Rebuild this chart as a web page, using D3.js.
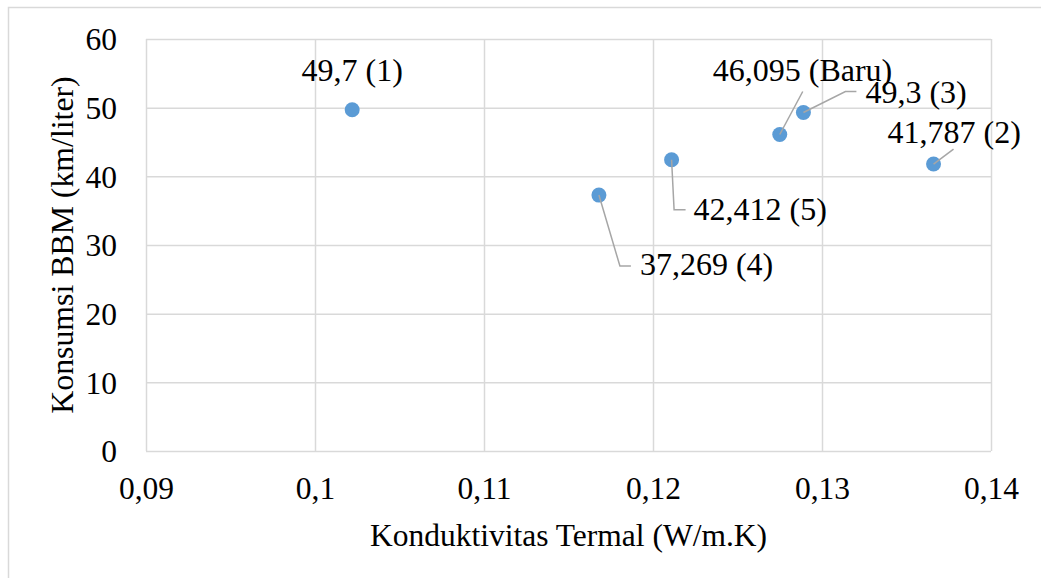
<!DOCTYPE html>
<html>
<head>
<meta charset="utf-8">
<script src="https://cdn.jsdelivr.net/npm/d3@7/dist/d3.min.js"></script>
<style>
  html, body { margin: 0; padding: 0; background: #fff; }
  svg { display: block; }
  text { font-family: "Liberation Serif", "Times New Roman", serif; fill: #000; }
</style>
</head>
<body>
<svg id="chart" width="1041" height="578"></svg>
<script>
// ---- Data ----
const conductivity = [0.1022, 0.1366, 0.1289, 0.1168, 0.1211, 0.1275];
const consumption  = [49.7, 41.787, 49.3, 37.269, 42.412, 46.095];
const pointLabels  = ["49,7 (1)", "41,787 (2)", "49,3 (3)", "37,269 (4)", "42,412 (5)", "46,095 (Baru)"];
const xTickValues  = [0.09, 0.10, 0.11, 0.12, 0.13, 0.14];
const yTickValues  = [0, 10, 20, 30, 40, 50, 60];
const xTitle = "Konduktivitas Termal (W/m.K)";
const yTitle = "Konsumsi BBM (km/liter)";

// ---- Layout (label placement offsets relative to each point, in px) ----
const labelLayout = [
  { dx: 0,     dy: -29, anchor: "middle", leader: [] },
  { dx: -46,   dy: -21, anchor: "start",  leader: [[20, -15]] },
  { dx: 62,    dy: -9,  anchor: "start",  leader: [[53, -21], [42, -21]] },
  { dx: 41,    dy: 80,  anchor: "start",  leader: [[32, 71], [21, 71]] },
  { dx: 22,    dy: 60,  anchor: "start",  leader: [[14, 50], [2.5, 50]] },
  { dx: -67,   dy: -53, anchor: "start",  leader: [[23, -43]] }
];

const FONT = "'Liberation Serif','Times New Roman',serif";
const svg = d3.select("#chart");
const plot = { left: 146, right: 991, top: 39, bottom: 451 };
const W = plot.right - plot.left, H = plot.bottom - plot.top;

const locale = d3.formatLocale({ decimal: ",", thousands: ".", grouping: [3], currency: ["", ""] });
const fmt = locale.format("~g");

const x = d3.scaleLinear().domain([0.09, 0.14]).range([plot.left, plot.right]);
const y = d3.scaleLinear().domain([0, 60]).range([plot.bottom, plot.top]);

// chart border
svg.append("rect")
  .attr("x", 8.5).attr("y", 7.5).attr("width", 1100).attr("height", 700)
  .attr("fill", "#fff").attr("stroke", "#d9d9d9").attr("stroke-width", 1.5);

// gridlines
const gx = svg.append("g").attr("transform", `translate(0,${plot.bottom})`)
  .call(d3.axisBottom(x).tickValues(xTickValues).tickSize(-H).tickFormat(""));
const gy = svg.append("g").attr("transform", `translate(${plot.left},0)`)
  .call(d3.axisLeft(y).tickValues(yTickValues).tickSize(-W).tickFormat(""));
[gx, gy].forEach(g => {
  g.select(".domain").remove();
  g.selectAll("line").attr("stroke", "#d9d9d9").attr("stroke-width", 1.5);
});

// axis labels
const ax = svg.append("g").attr("transform", `translate(0,${plot.bottom})`)
  .call(d3.axisBottom(x).tickValues(xTickValues).tickSize(0).tickFormat(fmt));
ax.attr("font-family", null).attr("font-size", null);
ax.select(".domain").remove();
ax.selectAll("text").attr("y", 48).attr("dy", 0)
  .style("font-size", "31.5px").style("font-family", FONT).attr("fill", "#000");

const ay = svg.append("g").attr("transform", `translate(${plot.left},0)`)
  .call(d3.axisLeft(y).tickValues(yTickValues).tickSize(0).tickFormat(fmt));
ay.attr("font-family", null).attr("font-size", null);
ay.select(".domain").remove();
ay.selectAll("text").attr("x", -29).attr("dy", "0.34em")
  .style("font-size", "31.5px").style("font-family", FONT).attr("fill", "#000");

// axis titles
svg.append("text")
  .attr("x", (plot.left + plot.right) / 2).attr("y", 546)
  .attr("text-anchor", "middle").style("font-size", "31.5px")
  .text(xTitle);
svg.append("text")
  .attr("transform", `translate(73,${(plot.top + plot.bottom) / 2}) rotate(-90)`)
  .attr("text-anchor", "middle").style("font-size", "31.8px")
  .text(yTitle);

// points
const pts = conductivity.map((c, i) => ({ cx: x(c), cy: y(consumption[i]), label: pointLabels[i], lay: labelLayout[i] }));

svg.append("g").selectAll("circle").data(pts).join("circle")
  .attr("cx", d => d.cx).attr("cy", d => d.cy).attr("r", 7.5)
  .attr("fill", "#5b9bd5");

// leader lines
const line = d3.line();
svg.append("g").selectAll("path").data(pts.filter(d => d.lay.leader.length)).join("path")
  .attr("d", d => line(d.lay.leader.map(o => [d.cx + o[0], d.cy + o[1]]).concat([[d.cx, d.cy]])))
  .attr("fill", "none").attr("stroke", "#a6a6a6").attr("stroke-width", 1.5);

// data labels
svg.append("g").selectAll("text").data(pts).join("text")
  .attr("x", d => d.cx + d.lay.dx).attr("y", d => d.cy + d.lay.dy)
  .attr("text-anchor", d => d.lay.anchor)
  .style("font-size", "32px")
  .text(d => d.label);
</script>
</body>
</html>
